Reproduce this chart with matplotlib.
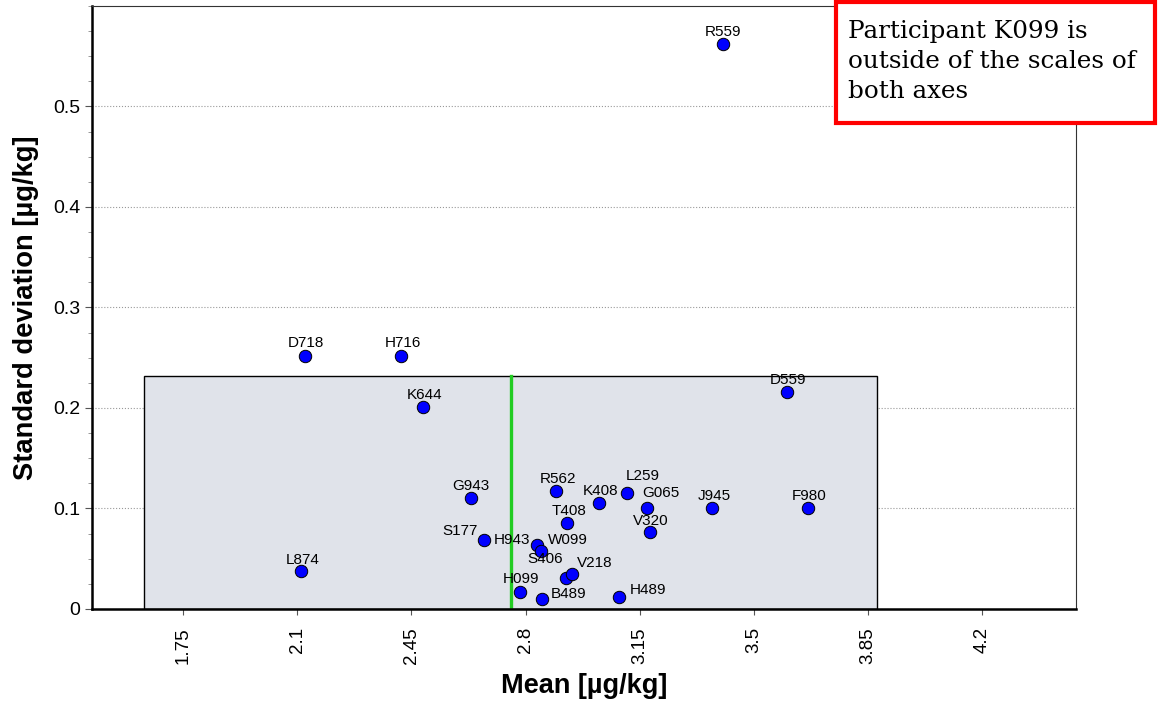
import matplotlib
matplotlib.use("Agg")
import matplotlib.pyplot as plt
from matplotlib.patches import Rectangle
from matplotlib.ticker import MultipleLocator

plt.rcParams["font.family"] = ["Liberation Sans", "DejaVu Sans"]

participants = ["R559", "D718", "H716", "K644", "D559", "G943", "R562", "L259",
                "K408", "G065", "J945", "F980", "T408", "V320", "S177", "H943",
                "W099", "S406", "V218", "H099", "B489", "H489", "L874"]
means = [3.405, 2.124, 2.418, 2.486, 3.601, 2.632, 2.894, 3.110,
         3.026, 3.173, 3.371, 3.665, 2.928, 3.182, 2.672, 2.836,
         2.847, 2.924, 2.941, 2.782, 2.849, 3.087, 2.112]
std_devs = [0.562, 0.252, 0.252, 0.201, 0.216, 0.110, 0.117, 0.115,
            0.105, 0.100, 0.100, 0.100, 0.086, 0.077, 0.069, 0.064,
            0.058, 0.031, 0.035, 0.017, 0.010, 0.012, 0.038]
# label offsets in pixels (dx right, dy up)
label_offsets = {
    "R559": (0, 12), "D718": (1, 13), "H716": (2, 13), "K644": (1, 12),
    "D559": (1, 12), "G943": (0, 12), "R562": (2, 12), "L259": (16, 17),
    "K408": (1, 12), "G065": (14, 15), "J945": (2, 12), "F980": (1, 12),
    "T408": (2, 12), "V320": (1, 11), "S177": (-24, 9), "H943": (-25, 5),
    "W099": (27, 11), "S406": (-21, 19), "V218": (23, 11), "H099": (1, 13),
    "B489": (27, 5), "H489": (29, 7), "L874": (2, 11),
}

x_ticks = [1.75, 2.1, 2.45, 2.8, 3.15, 3.5, 3.85, 4.2]
x_tick_labels = ["1.75", "2.1", "2.45", "2.8", "3.15", "3.5", "3.85", "4.2"]
y_ticks = [0, 0.1, 0.2, 0.3, 0.4, 0.5]
y_tick_labels = ["0", "0.1", "0.2", "0.3", "0.4", "0.5"]

accept_x = (1.63, 3.877)
accept_sd = 0.232
assigned_value = 2.755

fig = plt.figure(figsize=(11.58, 7.02), dpi=100)
ax = fig.add_axes([0.0794, 0.1325, 0.8498, 0.859])

ax.set_xlim(1.471, 4.487)
ax.set_ylim(0, 0.6)

ax.add_patch(Rectangle((accept_x[0], 0), accept_x[1] - accept_x[0], accept_sd,
                       facecolor="#e0e3ea", edgecolor="black", linewidth=1, zorder=1))
ax.plot([assigned_value, assigned_value], [0, accept_sd], color="#22cc22",
        linewidth=2.4, zorder=2)

ax.scatter(means, std_devs, s=80, color="#0000ff", edgecolors="black",
           linewidths=0.7, zorder=4)
for name, mx, sd in zip(participants, means, std_devs):
    dx, dy = label_offsets[name]
    ax.annotate(name, (mx, sd), xytext=(dx * 0.72, dy * 0.72),
                textcoords="offset points", ha="center", va="center",
                fontsize=11, color="black", zorder=5)

ax.set_xticks(x_ticks)
ax.set_xticklabels(x_tick_labels, rotation=90, fontsize=13.5)
ax.set_yticks(y_ticks)
ax.set_yticklabels(y_tick_labels, fontsize=14)
ax.yaxis.set_minor_locator(MultipleLocator(0.025))
ax.tick_params(axis="y", which="major", length=5, color="#555555")
ax.tick_params(axis="y", which="minor", length=3, color="#888888")
ax.tick_params(axis="x", which="major", length=4, color="#555555", pad=9)
ax.grid(axis="y", which="major", linestyle=":", color="#999999", linewidth=0.8, zorder=0)
ax.set_axisbelow(True)

for side in ["left", "bottom"]:
    ax.spines[side].set_linewidth(1.8)
    ax.spines[side].set_color("black")
for side in ["top", "right"]:
    ax.spines[side].set_linewidth(0.8)
    ax.spines[side].set_color("#333333")

ax.set_xlabel("Mean [µg/kg]", fontsize=19.5, fontweight="bold", labelpad=7)
ax.set_ylabel("Standard deviation [µg/kg]", fontsize=19.7, fontweight="bold", labelpad=10)

# note box at top right
fig.patches.append(Rectangle((0.7219, 0.8248), 0.2755, 0.1722, transform=fig.transFigure,
                             facecolor="white", edgecolor="#ff0000", linewidth=3,
                             zorder=10))
fig.text(0.7323, 0.972, "Participant K099 is\noutside of the scales of\nboth axes",
         family="DejaVu Serif", fontsize=17.7, ha="left", va="top",
         linespacing=1.4, zorder=11)

fig.savefig("out.png", dpi=100)
